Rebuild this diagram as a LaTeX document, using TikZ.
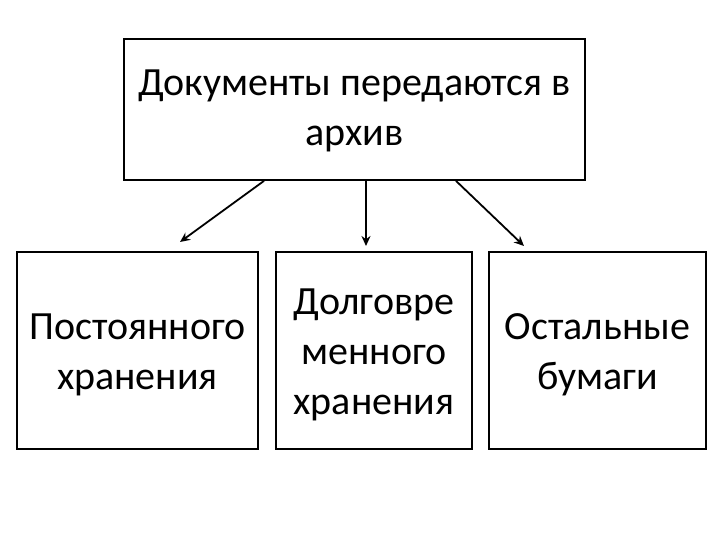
\documentclass[tikz,border=0pt]{standalone}
\usepackage{fontspec}
\setmainfont{Carlito}
\usetikzlibrary{arrows.meta}
\begin{document}
\begin{tikzpicture}[x=1pt,y=-1pt,
  box/.style={draw,line width=1.8pt,inner sep=0pt},
  txt/.style={align=center,inner sep=0pt,font=\fontsize{40}{50}\selectfont},
  arr/.style={line width=1.8pt,-{Stealth[length=10pt,width=9pt]}}]
\useasboundingbox (0,0) rectangle (720,540);
\node[box,minimum width=461pt,minimum height=141pt] (top) at (354.5,109.5) {};
\node[box,minimum width=241pt,minimum height=197pt] (l) at (137.5,350.5) {};
\node[box,minimum width=196pt,minimum height=197pt] (m) at (374,350.5) {};
\node[box,minimum width=217pt,minimum height=197pt] (r) at (597.5,350.5) {};
\node[txt] (topt) at (354.5,111) {Документы передаются в\\архив};
\node[txt] (lt) at (137.5,355) {Постоянного\\хранения};
\node[txt] (mt) at (374,355) {Долговре\\менного\\хранения};
\node[txt] (rt) at (597.5,355) {Остальные\\бумаги};
\coordinate (la) at (180,242);
\coordinate (ma) at (366,246);
\coordinate (ra) at (524,246);
\draw[arr] (top.south -| 264,0) -- (la);
\draw[arr] (top.south -| 366,0) -- (ma);
\draw[arr] (top.south -| 456,0) -- (ra);
\end{tikzpicture}
\end{document}
